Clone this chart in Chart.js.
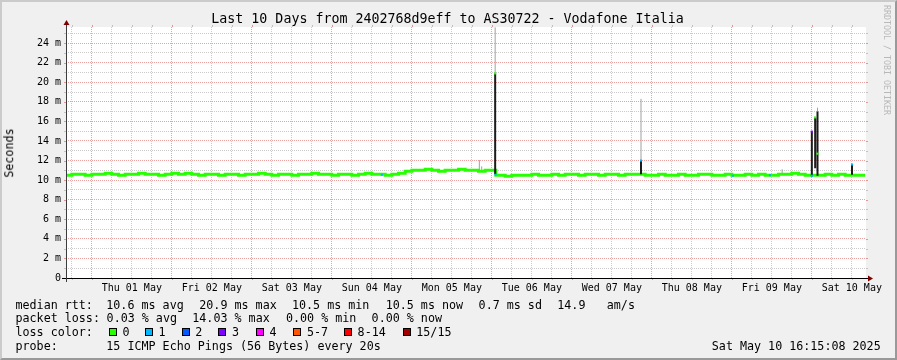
<!DOCTYPE html>
<html>
<head>
<meta charset="utf-8">
<script src="https://cdn.jsdelivr.net/npm/chart.js@4/dist/chart.umd.min.js"></script>
<style>
html, body { margin: 0; padding: 0; background: #f0f0f0; }
#graph { position: relative; width: 897px; height: 360px; background: #f0f0f0; overflow: hidden;
  font-family: 'DejaVu Sans Mono', monospace; color: #000; }
#graph canvas { position: absolute; left: 0; top: 0; }
.frame { position: absolute; left: 0; top: 0; width: 897px; height: 360px; box-sizing: border-box;
  border-top: 2px solid #cbcbcb; border-left: 2px solid #cbcbcb;
  border-right: 2px solid #999; border-bottom: 2px solid #999; pointer-events: none; }
.t { position: absolute; white-space: pre; line-height: 0; font-size: 11.7px; }
.box { position: absolute; width: 6px; height: 6px; border: 1px solid #000; }
.title { position: absolute; left: 0; width: 895px; text-align: center; top: 19.4px; line-height: 0; font-size: 13.3px; white-space: pre; }
.ylab { position: absolute; left: 10px; top: 152.5px; font-size: 11.7px; line-height: 1;
  transform: translate(-50%, -50%) rotate(-90deg); white-space: nowrap; }
.mark { position: absolute; left: 882.5px; top: 5px; font-size: 8.3px; line-height: 1; color: #b8b8b8;
  writing-mode: vertical-rl; white-space: nowrap; }
</style>
</head>
<body>
<div id="graph">
  <canvas id="chart" width="897" height="360"></canvas>
  <div class="title">Last 10 Days from 2402768d9eff to AS30722 - Vodafone Italia</div>
  <div class="ylab">Seconds</div>
  <div class="mark">RRDTOOL / TOBI OETIKER</div>

  <div class="t" style="left:15.5px;top:304.5px">median rtt:</div>
  <div class="t" style="left:106.3px;top:304.5px">10.6 ms avg</div>
  <div class="t" style="left:199.3px;top:304.5px">20.9 ms max</div>
  <div class="t" style="left:292px;top:304.5px">10.5 ms min</div>
  <div class="t" style="left:385.7px;top:304.5px">10.5 ms now</div>
  <div class="t" style="left:478.6px;top:304.5px">0.7 ms sd</div>
  <div class="t" style="left:557.3px;top:304.5px">14.9</div>
  <div class="t" style="left:606.8px;top:304.5px">am/s</div>

  <div class="t" style="left:15.5px;top:318.4px">packet loss:</div>
  <div class="t" style="left:106.6px;top:318.4px">0.03 % avg</div>
  <div class="t" style="left:192.3px;top:318.4px">14.03 % max</div>
  <div class="t" style="left:286px;top:318.4px">0.00 % min</div>
  <div class="t" style="left:371.6px;top:318.4px">0.00 % now</div>

  <div class="t" style="left:15.5px;top:332.3px">loss color:</div>
  <div id="lossLegend"></div>

  <div class="t" style="left:15.5px;top:346.2px">probe:</div>
  <div class="t" style="left:106.3px;top:346.2px">15 ICMP Echo Pings (56 Bytes) every 20s</div>
  <div class="t" style="right:16.3px;top:346.2px">Sat May 10 16:15:08 2025</div>
  <div class="frame"></div>
</div>
<script>
// time axis: hours since Wed 30 Apr 00:00, graph ends Sat 10 May 16:15
const startHour = 16.25;
const endHour = 256.25;
const dayLabels = ['Thu 01 May', 'Fri 02 May', 'Sat 03 May', 'Sun 04 May', 'Mon 05 May',
                   'Tue 06 May', 'Wed 07 May', 'Thu 08 May', 'Fri 09 May', 'Sat 10 May'];
const yTickLabels = ['0', '2 m', '4 m', '6 m', '8 m', '10 m', '12 m', '14 m', '16 m', '18 m',
                     '20 m', '22 m', '24 m'];

// loss colours (index = loss bucket)
const lossLabels = ['0', '1', '2', '3', '4', '5-7', '8-14', '15/15'];
const lossColors = ['#26ff00', '#00b8ff', '#0059ff', '#7e00ff', '#ff00ff', '#ff5500', '#ff0000', '#a10000'];

// median rtt in ms
const medianHours = [16, 18, 20, 22, 24, 26, 28, 30, 32, 34, 36, 38, 40, 42, 44, 46, 48, 50, 52, 54,
  56, 58, 60, 62, 64, 66, 68, 70, 72, 74, 76, 78, 80, 82, 84, 86, 88, 90, 92, 94,
  96, 98, 100, 102, 104, 106, 108, 110, 112, 114, 116, 118, 120, 122, 124, 126, 128, 130, 132, 134,
  136, 138, 140, 142, 144, 145.2, 146, 148, 150, 152, 154, 156, 158, 160, 162, 164, 166, 168, 170, 172,
  174, 176, 178, 180, 182, 184, 186, 188, 190, 192, 194, 196, 198, 200, 202, 204, 206, 208, 210, 212,
  214, 216, 218, 220, 222, 224, 226, 228, 230, 232, 234, 236, 238, 240, 242, 244, 246, 248, 250, 252,
  254, 256];
const medianMs = [10.5, 10.6, 10.6, 10.5, 10.6, 10.6, 10.7, 10.6, 10.5, 10.6, 10.6, 10.7, 10.6, 10.6, 10.5, 10.6, 10.7, 10.6, 10.7, 10.6,
  10.5, 10.6, 10.6, 10.5, 10.6, 10.6, 10.5, 10.6, 10.6, 10.7, 10.6, 10.5, 10.6, 10.6, 10.5, 10.6, 10.6, 10.7, 10.6, 10.6,
  10.5, 10.6, 10.6, 10.5, 10.6, 10.7, 10.6, 10.6, 10.5, 10.6, 10.7, 10.9, 11.0, 11.0, 11.1, 11.0, 10.9, 11.0, 11.0, 11.1,
  11.0, 11.0, 10.9, 11.0, 11.0, 10.5, 10.5, 10.4, 10.5, 10.5, 10.5, 10.6, 10.5, 10.5, 10.6, 10.5, 10.6, 10.6, 10.5, 10.6,
  10.6, 10.5, 10.6, 10.6, 10.5, 10.6, 10.6, 10.6, 10.5, 10.5, 10.6, 10.5, 10.5, 10.6, 10.5, 10.5, 10.6, 10.6, 10.5, 10.5,
  10.6, 10.5, 10.5, 10.6, 10.5, 10.6, 10.5, 10.5, 10.6, 10.6, 10.7, 10.6, 10.5, 10.5, 10.5, 10.6, 10.5, 10.6, 10.5, 10.5,
  10.5, 10.5];

// dense smoke columns (ms)
const burstHours = [145.0, 188.75, 240.0, 241.0, 241.7, 252.05];
const burstLow   = [10.6, 10.6, 10.4, 11.2, 10.45, 10.55];
const burstHigh  = [20.9, 12.05, 14.95, 16.4, 17.0, 11.6];

// light smoke (max ping) lines (ms)
const smokeHours = [145.0, 188.75, 241.7, 140.25, 140.96, 231.1];
const smokeLow   = [20.9, 12.05, 17.0, 11.0, 11.0, 10.7];
const smokeHigh  = [25.6, 18.3, 17.4, 12.05, 11.4, 11.1];

// loss coloured median samples
const lossHours = [145.0, 145.1, 188.75, 240.0, 240.0, 241.0, 241.7, 252.05, 216.3, 111.0, 227.45];
const lossMs    = [20.9, 10.55, 12.0, 14.95, 10.45, 16.4, 12.7, 11.6, 10.45, 10.55, 10.5];
const lossIndex = [0, 1, 1, 3, 1, 0, 0, 1, 1, 1, 1];

const GRID = 'rgba(140,140,140,0.45)';
const MGRID = 'rgba(210,30,30,0.42)';

// legend boxes
const boxLeft = [109, 145, 181.7, 218.3, 256, 293.3, 344, 402.7];
const legendEl = document.getElementById('lossLegend');
lossLabels.forEach((lab, i) => {
  const b = document.createElement('div');
  b.className = 'box';
  b.style.left = boxLeft[i] + 'px';
  b.style.top = '328px';
  b.style.background = lossColors[i];
  legendEl.appendChild(b);
  const t = document.createElement('div');
  t.className = 't';
  t.style.left = (boxLeft[i] + 13.6) + 'px';
  t.style.top = '332.3px';
  t.textContent = lab;
  legendEl.appendChild(t);
});

function segments(xs, lo, hi) {
  const out = [];
  xs.forEach((x, i) => {
    out.push({x: x, y: lo[i]}, {x: x, y: hi[i]}, {x: x, y: null});
  });
  return out;
}

const gridHours = [];
for (let h = 18; h <= 252; h += 6) gridHours.push(h);

const rrdFrame = {
  id: 'rrdFrame',
  beforeDraw(chart) {
    const a = chart.chartArea, c = chart.ctx;
    c.save();
    c.fillStyle = '#ffffff';
    c.fillRect(a.left, a.top, a.right - a.left, a.bottom - a.top);
    c.restore();
  },
  afterDraw(chart) {
    const a = chart.chartArea, c = chart.ctx;
    const xs = chart.scales.x, ys = chart.scales.y;
    c.save();
    c.lineWidth = 1;
    // little grid stubs outside the plot
    xs.ticks.forEach(t => {
      const px = Math.round(xs.getPixelForValue(t.value)) + 0.5;
      c.strokeStyle = t.value % 24 === 0 ? MGRID : GRID;
      c.beginPath();
      c.moveTo(px, a.top - 2); c.lineTo(px, a.top);
      c.moveTo(px, a.bottom); c.lineTo(px, a.bottom + 2);
      c.stroke();
    });
    ys.ticks.forEach(t => {
      const py = Math.round(ys.getPixelForValue(t.value)) + 0.5;
      c.strokeStyle = t.value % 2 === 0 ? MGRID : GRID;
      c.beginPath();
      c.moveTo(a.left - 2, py); c.lineTo(a.left, py);
      c.moveTo(a.right, py); c.lineTo(a.right + 2, py);
      c.stroke();
    });
    // axes
    const x0 = Math.round(a.left), y0 = Math.round(a.bottom), x1 = Math.round(a.right), y1 = Math.round(a.top);
    c.strokeStyle = '#000';
    c.beginPath();
    c.moveTo(x0 - 4, y0 + 0.5); c.lineTo(x1 + 4, y0 + 0.5);
    c.stroke();
    c.strokeStyle = '#3c3c3c';
    c.beginPath();
    c.moveTo(x0 + 0.5, y0 + 4); c.lineTo(x0 + 0.5, y1 - 4);
    c.stroke();
    // arrows
    c.fillStyle = '#7f0000';
    c.beginPath();
    c.moveTo(x1 + 2, y0 - 3 + 0.5); c.lineTo(x1 + 2, y0 + 3 + 0.5); c.lineTo(x1 + 7, y0 + 0.5);
    c.closePath(); c.fill();
    c.beginPath();
    c.moveTo(x0 - 3 + 0.5, y1 - 2); c.lineTo(x0 + 3 + 0.5, y1 - 2); c.lineTo(x0 + 0.5, y1 - 7);
    c.closePath(); c.fill();
    c.restore();
  }
};

const ctx = document.getElementById('chart').getContext('2d');
const myChart = new Chart(ctx, {
  type: 'line',
  data: {
    datasets: [
      {
        label: 'loss',
        data: lossHours.map((h, i) => ({x: h, y: lossMs[i]})),
        showLine: false,
        pointStyle: 'rect',
        pointRadius: 1.5,
        pointBorderWidth: 0,
        pointBackgroundColor: lossIndex.map(i => lossColors[i]),
        order: 0
      },
      {
        label: 'dense smoke',
        data: segments(burstHours, burstLow, burstHigh),
        borderColor: '#1c1c1c',
        borderWidth: 2,
        pointRadius: 0,
        spanGaps: false,
        order: 1
      },
      {
        label: 'median rtt',
        data: medianHours.map((h, i) => ({x: h, y: medianMs[i]})),
        borderColor: lossColors[0],
        borderWidth: 3,
        stepped: true,
        pointRadius: 0,
        order: 2
      },
      {
        label: 'smoke',
        data: segments(smokeHours, smokeLow, smokeHigh),
        borderColor: '#a0a0a0',
        borderWidth: 1,
        pointRadius: 0,
        spanGaps: false,
        order: 3
      }
    ]
  },
  options: {
    responsive: false,
    animation: false,
    devicePixelRatio: 1,
    layout: {padding: {top: 27, right: 31, left: 0, bottom: 0}},
    plugins: {legend: {display: false}, tooltip: {enabled: false}, title: {display: false}},
    elements: {line: {tension: 0, borderCapStyle: 'butt'}},
    scales: {
      x: {
        type: 'linear',
        min: startHour,
        max: endHour,
        afterFit(s) { s.height = 82; },
        afterBuildTicks(s) { s.ticks = gridHours.map(v => ({value: v})); },
        ticks: {
          autoSkip: false, maxRotation: 0, minRotation: 0, padding: 4,
          font: {family: 'DejaVu Sans Mono', size: 10}, color: '#000',
          callback: v => (v % 24 === 12 ? dayLabels[Math.floor(v / 24) - 1] : '')
        },
        grid: {drawTicks: false, lineWidth: 1, color: c => (c.tick && c.tick.value % 24 === 0 ? MGRID : GRID)},
        border: {display: false, dash: [1, 1]}
      },
      y: {
        min: 0,
        max: 25.64,
        afterFit(s) { s.width = 66; },
        ticks: {
          stepSize: 1, includeBounds: false, autoSkip: false, padding: 5,
          font: {family: 'DejaVu Sans Mono', size: 10}, color: '#000',
          callback: v => (v % 2 === 0 ? yTickLabels[v / 2] : '')
        },
        grid: {drawTicks: false, lineWidth: 1, color: c => (c.tick && c.tick.value % 2 === 0 ? MGRID : GRID)},
        border: {display: false, dash: [1, 1]}
      }
    }
  },
  plugins: [rrdFrame]
});
</script>
</body>
</html>
